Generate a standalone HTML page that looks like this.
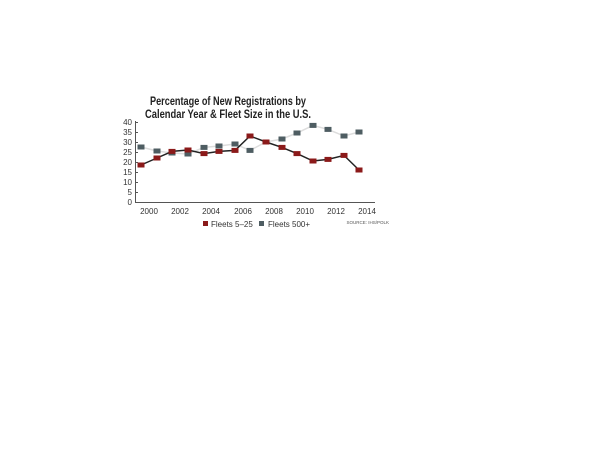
<!DOCTYPE html><html><head><style>body{margin:0;background:#fff}</style></head><body>
<svg width="600" height="450" xmlns="http://www.w3.org/2000/svg" font-family="Liberation Sans, sans-serif">
<text x="228" y="105" text-anchor="middle" font-size="12" font-weight="bold" fill="#222" textLength="156" lengthAdjust="spacingAndGlyphs">Percentage of New Registrations by</text>
<text x="228" y="118" text-anchor="middle" font-size="12" font-weight="bold" fill="#222" textLength="166" lengthAdjust="spacingAndGlyphs">Calendar Year &amp; Fleet Size in the U.S.</text>
<g font-size="8" fill="#333" text-anchor="end">
<text x="132" y="125">40</text><text x="132" y="135">35</text><text x="132" y="145">30</text><text x="132" y="155">25</text><text x="132" y="165">20</text><text x="132" y="175">15</text><text x="132" y="185">10</text><text x="132" y="195">5</text><text x="132" y="205">0</text>
</g>
<g stroke="#555" stroke-width="1">
<line x1="135.5" y1="121" x2="135.5" y2="202"/><line x1="135" y1="202.5" x2="375" y2="202.5"/>
<line x1="135" y1="122.5" x2="138" y2="122.5"/><line x1="135" y1="132.5" x2="138" y2="132.5"/><line x1="135" y1="142.5" x2="138" y2="142.5"/><line x1="135" y1="152.5" x2="138" y2="152.5"/><line x1="135" y1="162.5" x2="138" y2="162.5"/><line x1="135" y1="172.5" x2="138" y2="172.5"/><line x1="135" y1="182.5" x2="138" y2="182.5"/><line x1="135" y1="192.5" x2="138" y2="192.5"/>
</g>
<g font-size="8" fill="#333" text-anchor="middle">
<text x="149" y="214">2000</text><text x="180" y="214">2002</text><text x="211" y="214">2004</text><text x="243" y="214">2006</text><text x="274" y="214">2008</text><text x="305" y="214">2010</text><text x="336" y="214">2012</text><text x="367" y="214">2014</text>
</g>
<polyline fill="none" stroke="#ddd" stroke-width="1.5" points="141,147 157,151 172,153 188,154 204,147.4 219,146 235,144 250,150.4 266,142 282,139 297,133 313,125.4 328,129.4 344,136 359,132"/>
<polyline fill="none" stroke="#222" stroke-width="1.5" points="141,165 157,158 172,151.4 188,150 204,153.6 219,151.4 235,150.4 250,136 266,142 282,147.4 297,153.6 313,161 328,159.4 344,155.4 359,170"/>
<g fill="#4e5d62">
<rect x="137.5" y="144.5" width="7" height="5"/><rect x="153.5" y="148.5" width="7" height="5"/><rect x="168.5" y="150.5" width="7" height="5"/><rect x="184.5" y="151.5" width="7" height="5"/><rect x="200.5" y="144.9" width="7" height="5"/><rect x="215.5" y="143.5" width="7" height="5"/><rect x="231.5" y="141.5" width="7" height="5"/><rect x="246.5" y="147.9" width="7" height="5"/><rect x="262.5" y="139.5" width="7" height="5"/><rect x="278.5" y="136.5" width="7" height="5"/><rect x="293.5" y="130.5" width="7" height="5"/><rect x="309.5" y="122.9" width="7" height="5"/><rect x="324.5" y="126.9" width="7" height="5"/><rect x="340.5" y="133.5" width="7" height="5"/><rect x="355.5" y="129.5" width="7" height="5"/>
</g>
<g fill="#8b1a1a">
<rect x="137.5" y="162.5" width="7" height="5"/><rect x="153.5" y="155.5" width="7" height="5"/><rect x="168.5" y="148.9" width="7" height="5"/><rect x="184.5" y="147.5" width="7" height="5"/><rect x="200.5" y="151.1" width="7" height="5"/><rect x="215.5" y="148.9" width="7" height="5"/><rect x="231.5" y="147.9" width="7" height="5"/><rect x="246.5" y="133.5" width="7" height="5"/><rect x="262.5" y="139.5" width="7" height="5"/><rect x="278.5" y="144.9" width="7" height="5"/><rect x="293.5" y="151.1" width="7" height="5"/><rect x="309.5" y="158.5" width="7" height="5"/><rect x="324.5" y="156.9" width="7" height="5"/><rect x="340.5" y="152.9" width="7" height="5"/><rect x="355.5" y="167.5" width="7" height="5"/>
</g>
<rect x="203" y="221" width="5" height="5" fill="#8b1a1a"/>
<text x="211" y="227" font-size="8" fill="#333">Fleets 5–25</text>
<rect x="259" y="221" width="5" height="5" fill="#4e5d62"/>
<text x="268" y="227" font-size="8" fill="#333">Fleets 500+</text>
<text x="389" y="224" font-size="4.5" fill="#555" text-anchor="end">SOURCE: IHS/POLK</text>
</svg>
</body></html>
